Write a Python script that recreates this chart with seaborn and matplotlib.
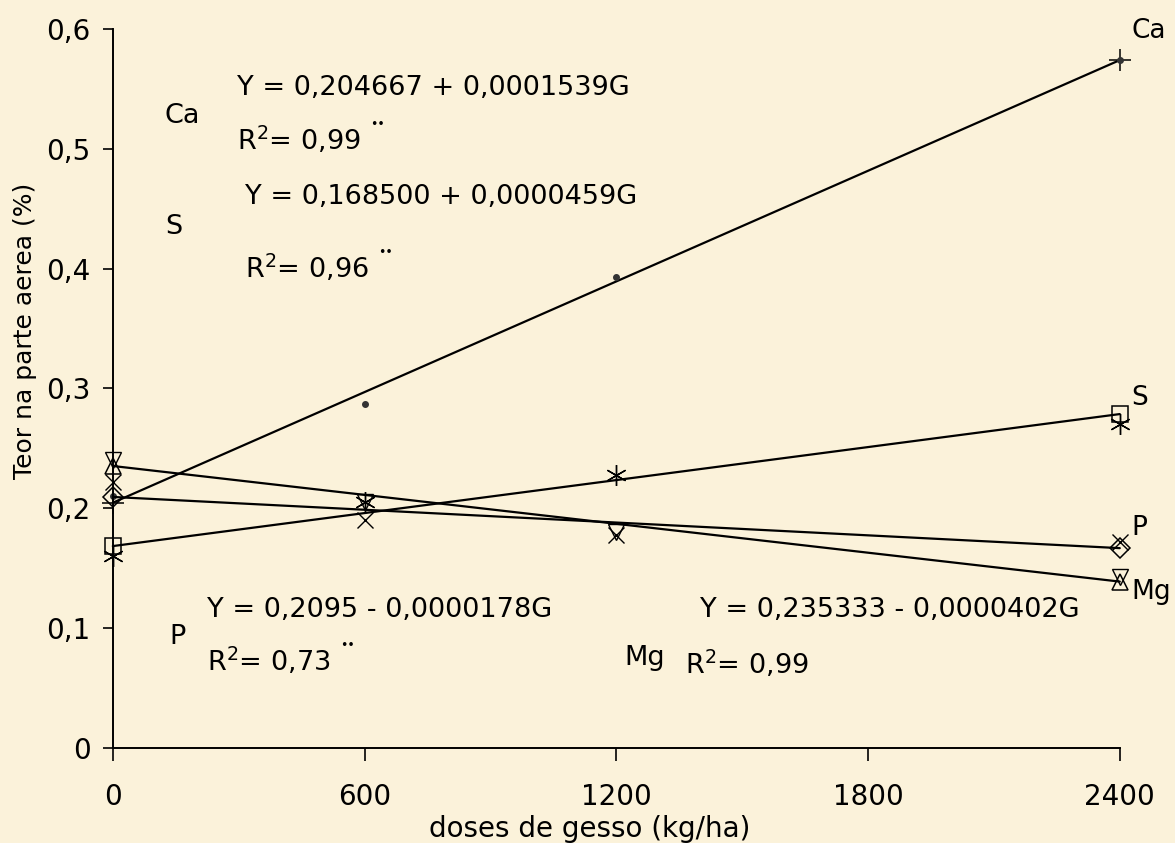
import matplotlib
matplotlib.use("Agg")
import matplotlib.pyplot as plt
import seaborn as sns
import numpy as np
import pandas as pd

# ---------------- data ----------------
doses = [0, 600, 1200, 2400]
ends = [0, 2400]

ca_obs = [0.21, 0.287, 0.393, 0.574]
s_obs = [0.16, 0.205, 0.228, 0.27]
p_obs = [0.222, 0.19, 0.178, 0.172]
mg_obs = [0.24, 0.205, 0.18, 0.143]

nutrients = ["Ca", "S", "P", "Mg"]
intercepts = [0.204667, 0.168500, 0.2095, 0.235333]
slopes = [0.0001539, 0.0000459, -0.0000178, -0.0000402]

eq_texts = ["Y = 0,204667 + 0,0001539G",
            "Y = 0,168500 + 0,0000459G",
            "Y = 0,2095 - 0,0000178G",
            "Y = 0,235333 - 0,0000402G"]
r2_texts = ["0,99", "0,96", "0,73", "0,99"]
r2_signif = [True, True, True, False]

yticks = [0, 0.1, 0.2, 0.3, 0.4, 0.5, 0.6]
ytick_labels = ["0", "0,1", "0,2", "0,3", "0,4", "0,5", "0,6"]
xticks = [0, 600, 1200, 1800, 2400]
xtick_labels = ["0", "600", "1200", "1800", "2400"]

# ---------------- style ----------------
bg = "#fbf2da"
sns.set_theme(style="white")
plt.rcParams["font.family"] = ["DejaVu Sans"]
plt.rcParams["mathtext.fontset"] = "dejavusans"
plt.rcParams["text.color"] = "black"
plt.rcParams["axes.labelcolor"] = "black"
plt.rcParams["xtick.color"] = "black"
plt.rcParams["ytick.color"] = "black"

fig = plt.figure(figsize=(11.75, 8.43), dpi=100, facecolor=bg)
ax = fig.add_axes([0.096, 0.1127, 0.857, 0.8529], facecolor=bg)

line_markers = {"Ca": "+", "S": "s", "P": "D", "Mg": "^"}
line_msize = {"Ca": 16, "S": 12, "P": 10, "Mg": 12}
obs_markers = {"Ca": "o", "S": (6, 2, 0), "P": "x", "Mg": "v"}
obs_msize = {"Ca": 4, "S": 15, "P": 12, "Mg": 12}
obs_vals = {"Ca": ca_obs, "S": s_obs, "P": p_obs, "Mg": mg_obs}

for name, b0, b1 in zip(nutrients, intercepts, slopes):
    pred = [b0 + b1 * g for g in ends]
    df_line = pd.DataFrame({"dose": ends, "teor": pred})
    sns.lineplot(data=df_line, x="dose", y="teor", ax=ax, color="black",
                 linewidth=1.6, marker=line_markers[name],
                 markersize=line_msize[name], markerfacecolor="none",
                 markeredgecolor="black", markeredgewidth=1.1, clip_on=False)
    df_obs = pd.DataFrame({"dose": doses, "teor": obs_vals[name]})
    m = obs_markers[name]
    if name == "Ca":
        ax.plot(df_obs["dose"], df_obs["teor"], linestyle="none", marker="o",
                markersize=obs_msize[name], color="#333333", clip_on=False)
    else:
        ax.plot(df_obs["dose"], df_obs["teor"], linestyle="none", marker=m,
                markersize=obs_msize[name], markerfacecolor="none",
                markeredgecolor="black", markeredgewidth=1.0, clip_on=False)

# ---------------- axes ----------------
ax.set_xlim(0, 2400)
ax.set_ylim(0, 0.6)
ax.set_xticks(xticks)
ax.set_xticklabels(xtick_labels, fontsize=20)
ax.set_yticks(yticks)
ax.set_yticklabels(ytick_labels, fontsize=20)
for side in ["top", "right"]:
    ax.spines[side].set_visible(False)
for side in ["left", "bottom"]:
    ax.spines[side].set_color("black")
    ax.spines[side].set_linewidth(1.4)
ax.tick_params(axis="y", direction="out", length=7, width=1.2, pad=9,
               colors="black", left=True)
ax.tick_params(axis="x", direction="out", length=9, width=1.2, pad=16,
               colors="black", bottom=True)
ax.grid(False)

ax.set_xlabel("doses de gesso (kg/ha)", fontsize=20, color="black")
ax.xaxis.set_label_coords(0.474, -0.093)
ax.set_ylabel("Teor na parte aerea (%)", fontsize=18, color="black")
ax.yaxis.set_label_coords(-0.075, 0.58)

# ---------------- annotations ----------------
fs = 19.5
name_pos = {"Ca": (124, 0.527), "S": (124, 0.435), "P": (136, 0.093),
            "Mg": (1220, 0.075)}
eq_pos = {"Ca": (295, 0.551), "S": (314, 0.460), "P": (224, 0.115),
          "Mg": (1399, 0.115)}
r2_pos = {"Ca": (295, 0.507), "S": (314, 0.400), "P": (224, 0.072),
          "Mg": (1363, 0.070)}
for i, name in enumerate(nutrients):
    ax.text(*name_pos[name], name, fontsize=fs, va="center", ha="left")
    ax.text(*eq_pos[name], eq_texts[i], fontsize=fs, va="center", ha="left")
    txt = r"R$^{\mathregular{2}}$= " + r2_texts[i]
    t = ax.text(*r2_pos[name], txt, fontsize=fs, va="center", ha="left")
    if r2_signif[i]:
        ax.annotate("••", xy=(1, 0.5), xycoords=t, xytext=(7, 7),
                    textcoords="offset points", fontsize=9, va="bottom",
                    ha="left")

# labels at the line ends
end_labels = {"Ca": (2428, 0.598), "S": (2428, 0.292), "P": (2428, 0.184),
              "Mg": (2428, 0.13)}
for name in nutrients:
    ax.text(*end_labels[name], name, fontsize=19, va="center", ha="left",
            clip_on=False)

fig.savefig("out.png", dpi=100, facecolor=bg)
